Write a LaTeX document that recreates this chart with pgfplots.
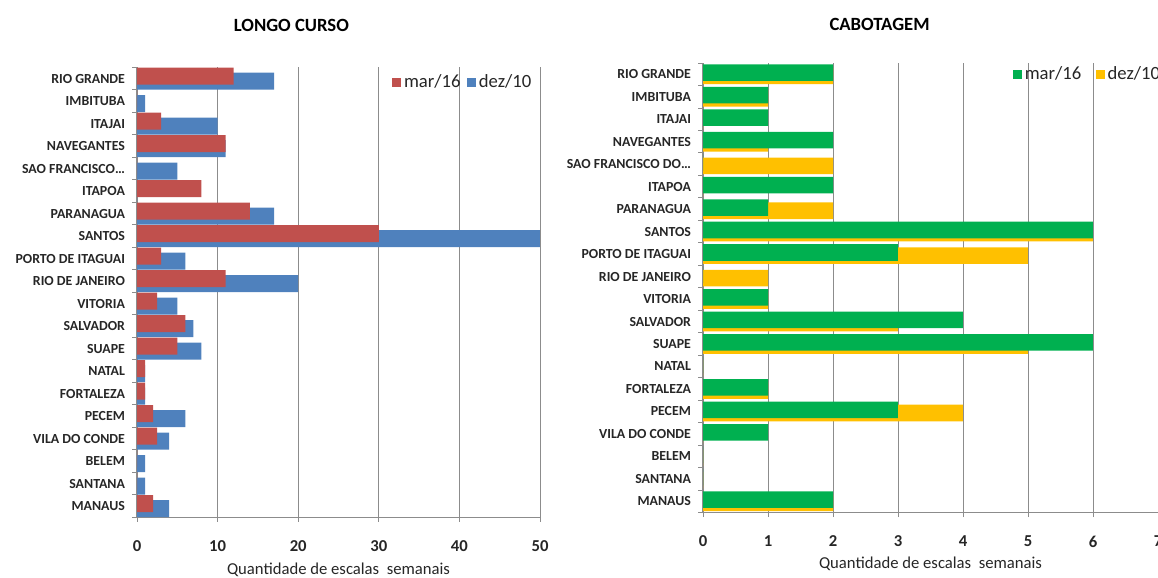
\documentclass[border=0pt]{standalone}
\usepackage{fontspec}
\setmainfont{Carlito}
\usepackage{pgfplots}
\pgfplotsset{compat=1.18}
\usepackage{pgfplotstable}

\definecolor{redc}{HTML}{C0504D}
\definecolor{bluec}{HTML}{4F81BD}
\definecolor{greenc}{HTML}{00B050}
\definecolor{yellowc}{HTML}{FFC000}
\definecolor{gridc}{HTML}{8C8C8C}

% weekly calls per port, y = position from the bottom (MANAUS = 0)
\pgfplotstableread{
y  mar  dez
19 12   17
18 0    1
17 3    10
16 11   11
15 0    5
14 8    0
13 14   17
12 30   50
11 3    6
10 11   20
9  2.5  5
8  6    7
7  5    8
6  1    1
5  1    1
4  2    6
3  2.5  4
2  0    1
1  0    1
0  2    4
}\longocurso

\pgfplotstableread{
y  mar  dez
19 2    2
18 1    1
17 1    0
16 2    1
15 0    2
14 2    0
13 1    2
12 6    6
11 3    5
10 0    1
9  1    1
8  4    3
7  6    5
6  0    0
5  1    1
4  3    4
3  1    0
2  0    0
1  0    0
0  2    2
}\cabotagem

\pgfplotsset{
  portchart/.style={
    scale only axis,
    xbar,
    enlargelimits=false,
    axis lines*=left,
    axis line style={gridc, line width=0.8pt},
    xmajorgrids,
    grid style={gridc, line width=0.7pt},
    tick align=outside,
    major tick length=3.5pt,
    minor tick length=3.5pt,
    major x tick style={gridc, line width=0.7pt},
    major y tick style={draw=none},
    minor y tick style={gridc, line width=0.7pt},
    ymin=-0.5, ymax=19.5,
    ytick={0,...,19},
    minor ytick={-0.5,0.5,...,19.5},
    yticklabels={MANAUS,SANTANA,BELEM,VILA DO CONDE,PECEM,FORTALEZA,NATAL,SUAPE,SALVADOR,VITORIA,RIO DE JANEIRO,PORTO DE ITAGUAI,SANTOS,PARANAGUA,ITAPOA,#1,NAVEGANTES,ITAJAI,IMBITUBA,RIO GRANDE},
    yticklabel style={font=\bfseries\fontsize{10.4}{12}\selectfont, text=black!85, anchor=east, xshift=-2pt},
    xticklabel style={font=\bfseries\fontsize{12.5}{14}\selectfont, text=black!85, yshift=-10.5pt},
    /pgf/number format/assume math mode=true,
    title style={font=\bfseries\fontsize{14}{16}\selectfont, anchor=center},
    xlabel style={font=\fontsize{12.5}{14}\selectfont, text=black!85, at={(0.5,0)}, anchor=center},
    xlabel={Quantidade de escalas\ \ semanais},
    legend image code/.code={\draw[##1, draw=none] (0pt,-3.4pt) rectangle (6.75pt,3.4pt);},
    legend style={draw=none, fill=none, inner sep=0pt, legend columns=2,
      font=\fontsize{14}{16}\selectfont, text=black!85},
  },
}

\begin{document}
\begin{tikzpicture}

% ---- LONGO CURSO ----
\begin{axis}[
  portchart={SAO FRANCISCO…},
  at={(102.75pt,45.5pt)}, anchor=south west,
  width=302.25pt, height=337.5pt,
  xmin=0, xmax=50, xtick={0,10,...,50},
  title={LONGO CURSO},
  title style={at={(0.383,1)}, yshift=25.7pt},
  xlabel style={yshift=-39pt},
  legend style={at={(0.633,0.967)}, anchor=west,
    /tikz/every even column/.append style={column sep=3pt}},
]
\addlegendimage{fill=redc}
\addlegendentry{mar/16}
\addplot[fill=bluec, draw=none, bar width=12.75pt, bar shift=-1.9pt]
  table[x=dez, y=y] {\longocurso};
\addlegendentry{dez/10}
\addplot[fill=redc, draw=none, bar width=12.75pt, bar shift=1.9pt, forget plot]
  table[x=mar, y=y] {\longocurso};
\end{axis}

% ---- CABOTAGEM ----
\begin{axis}[
  portchart={SAO FRANCISCO DO…},
  at={(527.25pt,49.1pt)}, anchor=south west,
  width=341.25pt, height=337.1pt,
  xmin=0, xmax=7, xtick={0,...,7},
  title={CABOTAGEM},
  title style={at={(0.388,1)}, yshift=23pt},
  xlabel style={yshift=-38.5pt},
  legend style={at={(0.681,0.975)}, anchor=west,
    /tikz/every even column/.append style={column sep=9pt}},
]
\addlegendimage{fill=greenc}
\addlegendentry{mar/16}
\addplot[fill=yellowc, draw=none, bar width=12.4pt, bar shift=-1.2pt]
  table[x=dez, y=y] {\cabotagem};
\addlegendentry{dez/10}
\addplot[fill=greenc, draw=none, bar width=12.4pt, bar shift=1.2pt, forget plot]
  table[x=mar, y=y] {\cabotagem};
\end{axis}

\pgfresetboundingbox
\path[use as bounding box] (0,0) rectangle (868.5pt,433.5pt);
\end{tikzpicture}
\end{document}
